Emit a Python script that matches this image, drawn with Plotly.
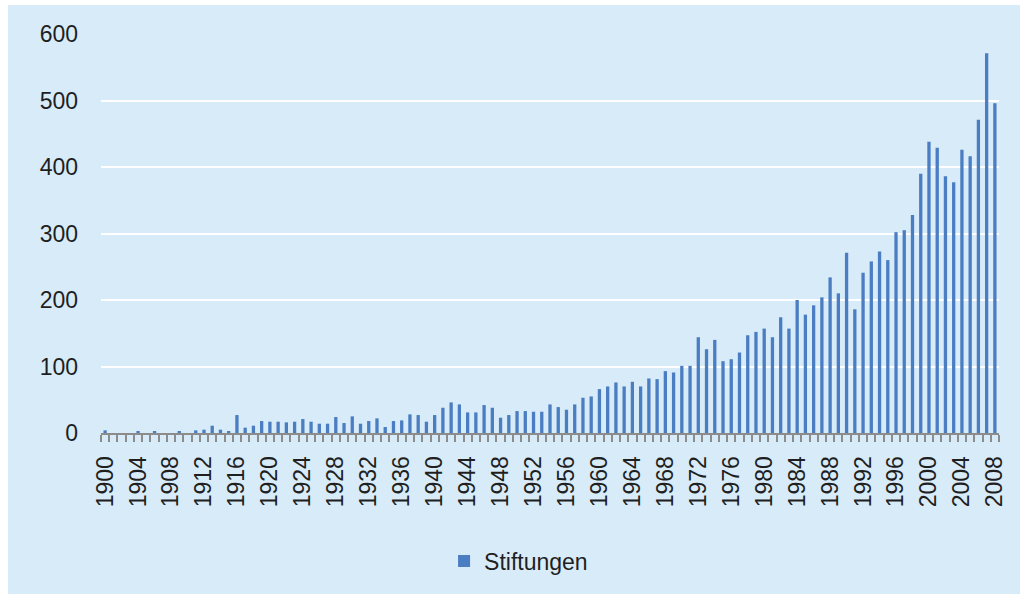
import plotly.graph_objects as go

years = list(range(1900, 2009))
stiftungen = [
    4, 0, 0, 0, 2, 0, 2, 0, 0, 2,          # 1900-1909
    0, 4, 5, 11, 5, 3, 27, 8, 11, 18,      # 1910-1919
    17, 17, 16, 17, 21, 17, 14, 14, 24, 15,  # 1920-1929
    25, 14, 18, 22, 9, 18, 19, 28, 27, 17,   # 1930-1939
    27, 38, 46, 43, 31, 31, 42, 38, 23, 27,  # 1940-1949
    33, 33, 32, 32, 43, 39, 35, 43, 53, 55,  # 1950-1959
    66, 70, 76, 70, 77, 70, 82, 81, 93, 91,  # 1960-1969
    101, 101, 144, 126, 140, 108, 111, 121, 147, 152,  # 1970-1979
    157, 144, 174, 157, 200, 178, 192, 204, 234, 210,  # 1980-1989
    271, 186, 241, 258, 273, 260, 302, 305, 328, 390,  # 1990-1999
    438, 429, 386, 377, 426, 416, 471, 571, 496,       # 2000-2008
]
tick_years = list(range(1900, 2009, 4))
tick_labels = [str(y) for y in tick_years]
y_ticks = [0, 100, 200, 300, 400, 500, 600]

BG = "#D7EBF9"
BAR = "#4A7DC1"
FONT = "Liberation Sans, Arial, sans-serif"

fig = go.Figure()
fig.add_trace(go.Bar(
    x=years, y=stiftungen, name="Stiftungen",
    marker=dict(color=BAR, line=dict(width=0)),
    showlegend=True,
))

fig.update_layout(
    width=1020, height=594,
    margin=dict(l=101, r=21, t=34, b=161),
    paper_bgcolor="white",
    plot_bgcolor="rgba(0,0,0,0)",
    font=dict(family=FONT, size=23, color="#1f1f1f"),
    bargap=0.6,
    showlegend=True,
    legend=dict(orientation="h", x=0.465, xanchor="center", y=-0.321, yanchor="middle",
                bgcolor="rgba(0,0,0,0)", font=dict(size=23, color="#1f1f1f")),
    shapes=[dict(type="rect", xref="paper", yref="paper",
                 x0=-0.1036, x1=1.05, y0=-0.5, y1=1.0727,
                 fillcolor=BG, line=dict(width=0), layer="below")],
)

fig.update_xaxes(
    range=[1899.5, 2008.5],
    tickmode="array", tickvals=tick_years, ticktext=tick_labels,
    tickangle=-90, ticks="", ticklabelstandoff=12,
    showgrid=False, zeroline=False,
    showline=True, linecolor="#8c8c8c", linewidth=2,
    minor=dict(ticks="outside", tick0=1899.5, dtick=1, ticklen=7,
               tickcolor="#8c8c8c", tickwidth=2, showgrid=False),
    tickfont=dict(size=23, color="#1f1f1f"),
)

fig.update_yaxes(
    range=[0, 600], tickmode="array", tickvals=y_ticks,
    showgrid=True, gridcolor="white", gridwidth=2,
    zeroline=False, showline=False, ticks="",
    ticklabelstandoff=22,
    tickfont=dict(size=23, color="#1f1f1f"),
)

fig.write_html("out.html", config={"displayModeBar": False},
               post_script="document.body.style.margin='0';document.body.style.overflow='hidden';")
